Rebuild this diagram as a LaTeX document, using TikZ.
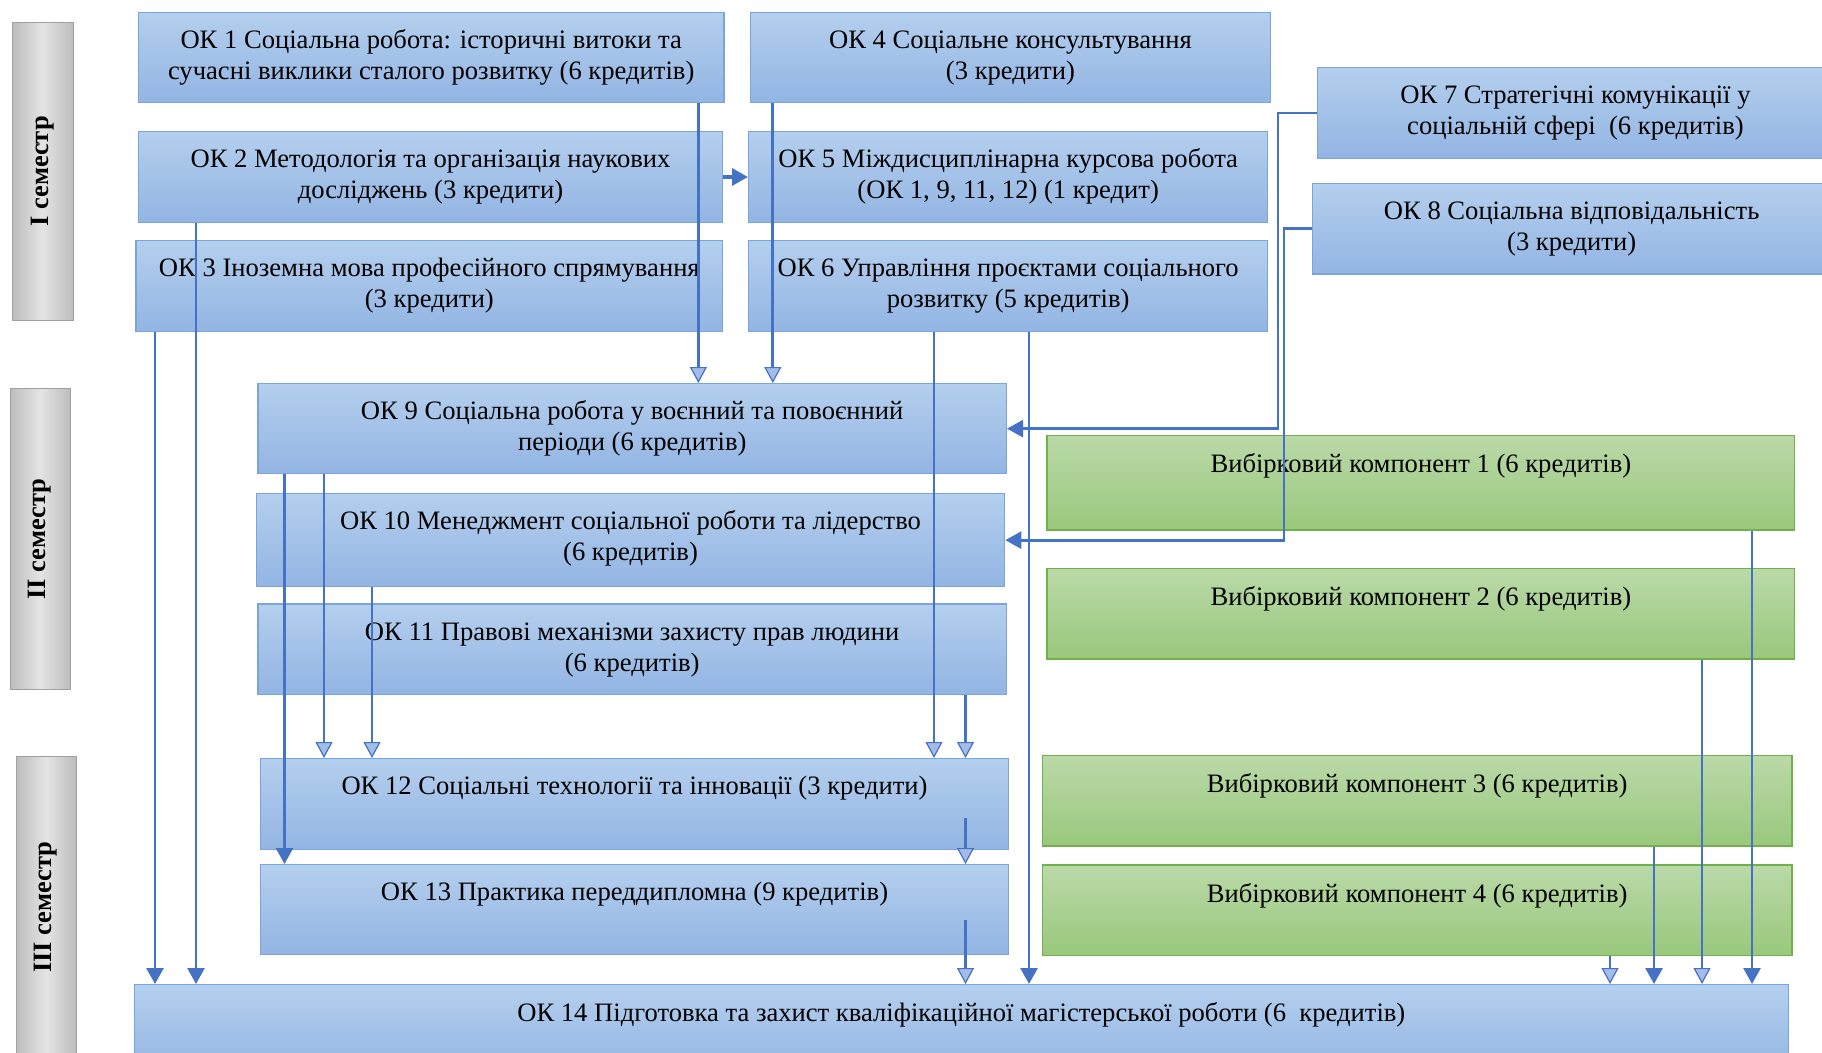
\documentclass[tikz,border=0pt]{standalone}
\usepackage{fontspec}
\setmainfont{Liberation Serif}
\usetikzlibrary{arrows.meta,calc}
\definecolor{okTop}{HTML}{B4CFEE}
\definecolor{okBot}{HTML}{93B5E3}
\definecolor{okBorder}{HTML}{7AA5DC}
\definecolor{vkTop}{HTML}{BAD9A8}
\definecolor{vkBot}{HTML}{99C87C}
\definecolor{vkBorder}{HTML}{72B04C}
\definecolor{semA}{HTML}{BDBDBD}
\definecolor{semB}{HTML}{E4E4E4}
\definecolor{semBorder}{HTML}{A0A0A0}
\definecolor{arrBlue}{HTML}{4472C4}
\definecolor{headFill}{HTML}{A3BDE8}
\tikzset{
  okbox/.style={draw=okBorder, line width=1.3pt, top color=okTop, bottom color=okBot, inner sep=0},
  vkbox/.style={draw=vkBorder, line width=1.3pt, top color=vkTop, bottom color=vkBot, inner sep=0},
  sembox/.style={draw=semBorder, line width=1pt, left color=semA, right color=semA, middle color=semB, inner sep=0},
  txt/.style={align=center, inner sep=0, anchor=north, font=\fontsize{26.6}{31}\selectfont},
  semtxt/.style={rotate=90, inner sep=0, font=\fontsize{26.5}{30}\selectfont\bfseries},
  arrF/.style={draw=arrBlue, line width=2.7pt, -{Triangle[width=17pt,length=16pt,fill=arrBlue]}},
  arrO/.style={draw=arrBlue, line width=2.7pt, -{Triangle[width=17pt,length=16pt,fill=headFill,line width=1.2pt]}},
}
\newcommand{\bx}[6]{% style, name, x1, y1, x2, y2
  \node[#1, anchor=north west, minimum width=#5pt-#3pt, minimum height=#6pt-#4pt] (#2) at (#3,#4) {};}
\begin{document}
\begin{tikzpicture}[x=1pt,y=-1pt]
\useasboundingbox (0,0) rectangle (1822,1052);
\clip (0,0) rectangle (1822,1052);
% semester labels
\bx{sembox}{sem1}{11.6}{21.7}{72.6}{320}
\bx{sembox}{sem2}{9.5}{388}{69.7}{689.3}
\bx{sembox}{sem3}{15.7}{756}{75.5}{1057}
\node[semtxt] (sem1t) at (sem1.center) {I семестр};
\node[semtxt] (sem2t) at (sem2.center) {II семестр};
\node[semtxt] (sem3t) at (sem3.center) {III семестр};
% boxes
\bx{okbox}{ok1}{137.7}{11.7}{723.4}{101.7}
\bx{okbox}{ok2}{137.7}{131}{722}{221.7}
\bx{okbox}{ok3}{135.4}{240}{722}{330.7}
\bx{okbox}{ok4}{749.6}{11.7}{1270}{101.7}
\bx{okbox}{ok5}{748}{131}{1267}{221.7}
\bx{okbox}{ok6}{748}{240}{1267}{330.7}
\bx{okbox}{ok7}{1316.6}{66.7}{1833}{157.7}
\bx{okbox}{ok8}{1312}{182.7}{1830}{273.3}
\bx{okbox}{ok9}{257.4}{383}{1005.7}{473}
\bx{okbox}{ok10}{255.7}{493}{1004}{586}
\bx{okbox}{ok11}{257.4}{603.3}{1005.7}{693.7}
\bx{okbox}{ok12}{259.7}{758}{1008}{848.7}
\bx{okbox}{ok13}{259.7}{864}{1008}{954}
\bx{okbox}{ok14}{133.6}{984}{1787.7}{1075}
\bx{vkbox}{vk1}{1046.4}{435}{1794}{529.3}
\bx{vkbox}{vk2}{1046.4}{567.7}{1794}{658.3}
\bx{vkbox}{vk3}{1041.7}{755}{1791.3}{845.3}
\bx{vkbox}{vk4}{1041.7}{864.3}{1791.3}{955}
% texts
\node[txt] (ok1t) at ([yshift=-15pt]ok1.north) {\strut ОК 1 Соціальна робота: історичні витоки та\\сучасні виклики сталого розвитку (6 кредитів)};
\node[txt] (ok2t) at ([yshift=-15pt]ok2.north) {\strut ОК 2 Методологія та організація наукових\\досліджень (3 кредити)};
\node[txt] (ok3t) at ([yshift=-15pt]ok3.north) {\strut ОК 3 Іноземна мова професійного спрямування\\(3 кредити)};
\node[txt] (ok4t) at ([yshift=-15pt]ok4.north) {\strut ОК 4 Соціальне консультування\\(3 кредити)};
\node[txt] (ok5t) at ([yshift=-15pt]ok5.north) {\strut ОК 5 Міждисциплінарна курсова робота\\(ОК 1, 9, 11, 12) (1 кредит)};
\node[txt] (ok6t) at ([yshift=-15pt]ok6.north) {\strut ОК 6 Управління проєктами соціального\\розвитку (5 кредитів)};
\node[txt] (ok7t) at ([yshift=-15pt]ok7.north) {\strut ОК 7 Стратегічні комунікації у\\соціальній сфері\ \ (6 кредитів)};
\node[txt] (ok8t) at ([yshift=-15pt]ok8.north) {\strut ОК 8 Соціальна відповідальність\\(3 кредити)};
\node[txt] (ok9t) at ([yshift=-15pt]ok9.north) {\strut ОК 9 Соціальна робота у воєнний та повоєнний\\періоди (6 кредитів)};
\node[txt] (ok10t) at ([yshift=-15pt]ok10.north) {\strut ОК 10 Менеджмент соціальної роботи та лідерство\\(6 кредитів)};
\node[txt] (ok11t) at ([yshift=-15pt]ok11.north) {\strut ОК 11 Правові механізми захисту прав людини\\(6 кредитів)};
\node[txt] (ok12t) at ([yshift=-15pt]ok12.north) {\strut ОК 12 Соціальні технології та інновації (3 кредити)};
\node[txt] (ok13t) at ([yshift=-15pt]ok13.north) {\strut ОК 13 Практика переддипломна (9 кредитів)};
\node[txt] (ok14t) at ([yshift=-16pt]ok14.north) {\strut ОК 14 Підготовка та захист кваліфікаційної магістерської роботи (6\ \ кредитів)};
\node[txt] (vk1t) at ([yshift=-16pt]vk1.north) {\strut Вибірковий компонент 1 (6 кредитів)};
\node[txt] (vk2t) at ([yshift=-16pt]vk2.north) {\strut Вибірковий компонент 2 (6 кредитів)};
\node[txt] (vk3t) at ([yshift=-16pt]vk3.north) {\strut Вибірковий компонент 3 (6 кредитів)};
\node[txt] (vk4t) at ([yshift=-16pt]vk4.north) {\strut Вибірковий компонент 4 (6 кредитів)};
% x positions of vertical connectors
\coordinate (xa) at (698.4,0);
\coordinate (xb) at (772.8,0);
\coordinate (xc) at (196,0);
\coordinate (xd) at (155,0);
\coordinate (xe) at (934,0);
\coordinate (xf) at (1029,0);
\coordinate (xg) at (284.5,0);
\coordinate (xh) at (324,0);
\coordinate (xi) at (372,0);
\coordinate (xj) at (965.5,0);
\coordinate (xk) at (1752,0);
\coordinate (xl) at (1702,0);
\coordinate (xm) at (1654,0);
\coordinate (xn) at (1610,0);
\coordinate (k7) at (1278,0);
\coordinate (k8) at (1284,0);
\coordinate (c14) at (965.5,818);
\coordinate (c15) at (965.5,920);
% connectors
\draw[arrO] (ok1.south -| xa) -- (ok9.north -| xa);
\draw[arrO] (ok4.south -| xb) -- (ok9.north -| xb);
\draw[arrF, line width=3.5pt] (ok2.east) -- (ok5.west);
\draw[arrF] (ok2.south -| xc) -- (ok14.north -| xc);
\draw[arrF] (ok3.south -| xd) -- (ok14.north -| xd);
\draw[arrO] (ok6.south -| xe) -- (ok12.north -| xe);
\draw[arrF] (ok6.south -| xf) -- (ok14.north -| xf);
\draw[arrF] (ok7.west) -- (ok7.west -| k7) -- (ok9.east -| k7) -- (ok9.east);
\draw[arrF] (ok8.west) -- (ok8.west -| k8) -- (ok10.east -| k8) -- (ok10.east);
\draw[arrF] (ok9.south -| xg) -- (ok13.north -| xg);
\draw[arrO] (ok9.south -| xh) -- (ok12.north -| xh);
\draw[arrO] (ok10.south -| xi) -- (ok12.north -| xi);
\draw[arrO] (ok11.south -| xj) -- (ok12.north -| xj);
\draw[arrO] (c14) -- (ok13.north -| c14);
\draw[arrO] (c15) -- (ok14.north -| c15);
\draw[arrF] (vk1.south -| xk) -- (ok14.north -| xk);
\draw[arrO] (vk2.south -| xl) -- (ok14.north -| xl);
\draw[arrF] (vk3.south -| xm) -- (ok14.north -| xm);
\draw[arrO] (vk4.south -| xn) -- (ok14.north -| xn);
\end{tikzpicture}
\end{document}
